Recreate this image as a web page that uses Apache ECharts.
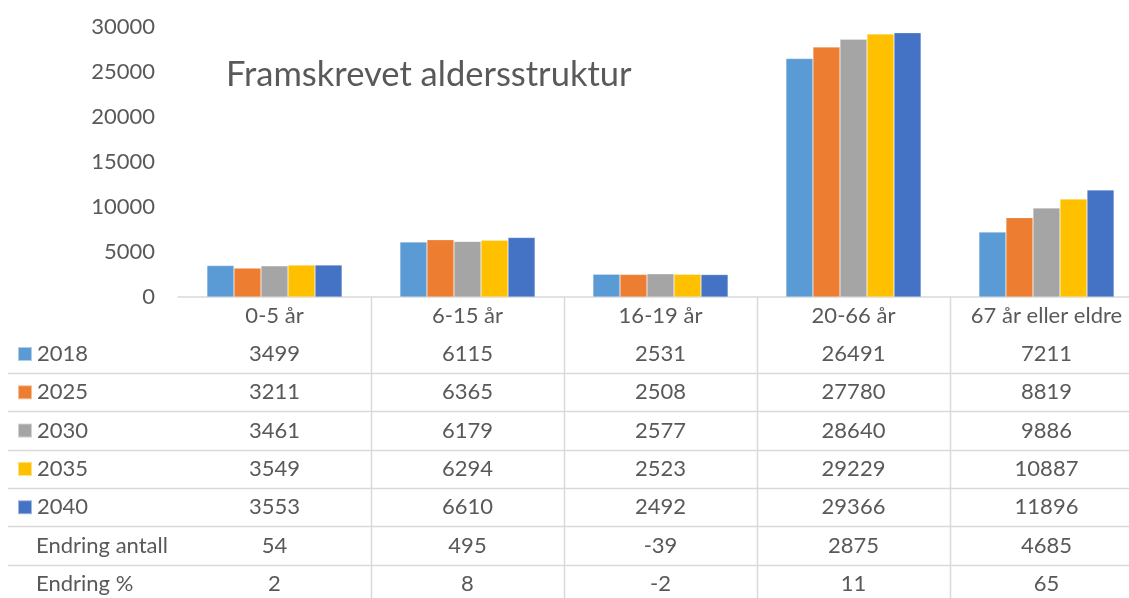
<!DOCTYPE html>
<html>
<head>
<meta charset="utf-8">
<script src="https://cdn.jsdelivr.net/npm/echarts@6/dist/echarts.min.js"></script>
<style>
  html, body { margin: 0; padding: 0; background: #fff; }
  #main { width: 1129px; height: 598px; }
</style>
</head>
<body>
<div id="main"></div>
<script>
// data
var categories = ['0-5 år', '6-15 år', '16-19 år', '20-66 år', '67 år eller eldre'];
var years = ['2018', '2025', '2030', '2035', '2040'];
var v2018 = [3499, 6115, 2531, 26491, 7211];
var v2025 = [3211, 6365, 2508, 27780, 8819];
var v2030 = [3461, 6179, 2577, 28640, 9886];
var v2035 = [3549, 6294, 2523, 29229, 10887];
var v2040 = [3553, 6610, 2492, 29366, 11896];
var endringAntall = [54, 495, -39, 2875, 4685];
var endringProsent = [2, 8, -2, 11, 65];
var extraRowNames = ['Endring antall', 'Endring %'];
var yTicks = [0, 5000, 10000, 15000, 20000, 25000, 30000];

var colors = ['#5B9BD5', '#ED7D31', '#A5A5A5', '#FFC000', '#4472C4'];
var FONT = 'Lato';
var TXT = '#595959';
var LINE = '#D9D9D9';

var seriesValues = [v2018, v2025, v2030, v2035, v2040];
var tableRows = seriesValues.concat([endringAntall, endringProsent]);

// table layout
var rowTop = 38;     // offset of first table row below header
var rowStep = 38.3;  // row height

var myChart = echarts.init(document.getElementById('main'));

var xAxes = [{
    type: 'category',
    data: categories,
    axisLine: { lineStyle: { color: LINE, width: 1.5 } },
    axisTick: { show: false },
    axisLabel: { interval: 0, margin: 8, fontSize: 22, lineHeight: 22, color: TXT, fontFamily: FONT }
}];
tableRows.forEach(function (row, i) {
    xAxes.push({
        type: 'category',
        position: 'bottom',
        offset: rowTop + i * rowStep,
        data: row.map(String),
        axisLine: { show: false },
        axisTick: { show: false },
        splitLine: { show: false },
        axisLabel: { interval: 0, margin: 8, fontSize: 22, lineHeight: 22, color: TXT, fontFamily: FONT }
    });
});

var option = {
    animation: false,
    color: colors,
    title: {
        text: 'Framskrevet aldersstruktur',
        left: 226,
        top: 56,
        padding: 0,
        textStyle: { fontSize: 34.5, fontWeight: 'normal', color: TXT, fontFamily: FONT, lineHeight: 38 }
    },
    legend: {
        orient: 'vertical',
        left: 17,
        top: 343,
        padding: 0,
        itemWidth: 14,
        itemHeight: 14,
        itemGap: rowStep - 22,
        icon: 'rect',
        data: years,
        textStyle: { fontSize: 22, lineHeight: 22, color: TXT, fontFamily: FONT, padding: [0, 0, 0, 0] }
    },
    // last column runs past the right edge, as in the source
    grid: { left: 178, width: 965, top: 27, bottom: 301, containLabel: false, outerBoundsMode: 'none' },
    xAxis: xAxes,
    yAxis: {
        type: 'value',
        min: yTicks[0],
        max: yTicks[yTicks.length - 1],
        interval: yTicks[1] - yTicks[0],
        splitLine: { show: false },
        axisLine: { show: false },
        axisTick: { show: false },
        axisLabel: {
            margin: 23, fontSize: 22, color: TXT, fontFamily: FONT,
            formatter: function (v) { return String(v); }
        }
    },
    series: years.map(function (y, i) {
        return {
            name: y,
            type: 'bar',
            xAxisIndex: 0,
            data: seriesValues[i],
            barGap: '0%',
            barCategoryGap: '30%',
            itemStyle: { borderColor: 'rgba(255,255,255,0.5)', borderWidth: 0.5 }
        };
    })
};

myChart.setOption(option);

// table grid lines and extra row labels, placed from the axis scales
function drawTable() {
    var w = myChart.getWidth();
    var h = myChart.getHeight();
    var axisY = myChart.convertToPixel({ yAxisIndex: 0 }, 0);
    var centers = categories.map(function (c) {
        return myChart.convertToPixel({ xAxisIndex: 0 }, c);
    });
    var headerCenter = axisY + 8 + 11;
    var els = [];
    for (var i = 0; i < centers.length - 1; i++) {
        var x = Math.round((centers[i] + centers[i + 1]) / 2) + 0.5;
        els.push({
            type: 'line',
            shape: { x1: x, y1: axisY, x2: x, y2: h },
            style: { stroke: LINE, lineWidth: 1.5 },
            silent: true
        });
    }
    for (var r = 0; r < tableRows.length - 1; r++) {
        var y = Math.round(headerCenter + rowTop + r * rowStep + rowStep / 2) + 0.5;
        els.push({
            type: 'line',
            shape: { x1: 8, y1: y, x2: w, y2: y },
            style: { stroke: LINE, lineWidth: 1.5 },
            silent: true
        });
    }
    extraRowNames.forEach(function (name, k) {
        var rowIdx = seriesValues.length + k;
        els.push({
            type: 'text',
            x: 36,
            y: headerCenter + rowTop + rowIdx * rowStep,
            style: {
                text: name,
                fill: TXT,
                font: '22px ' + FONT,
                verticalAlign: 'middle',
                align: 'left'
            },
            silent: true
        });
    });
    myChart.setOption({ graphic: els });
}
drawTable();
</script>
</body>
</html>
